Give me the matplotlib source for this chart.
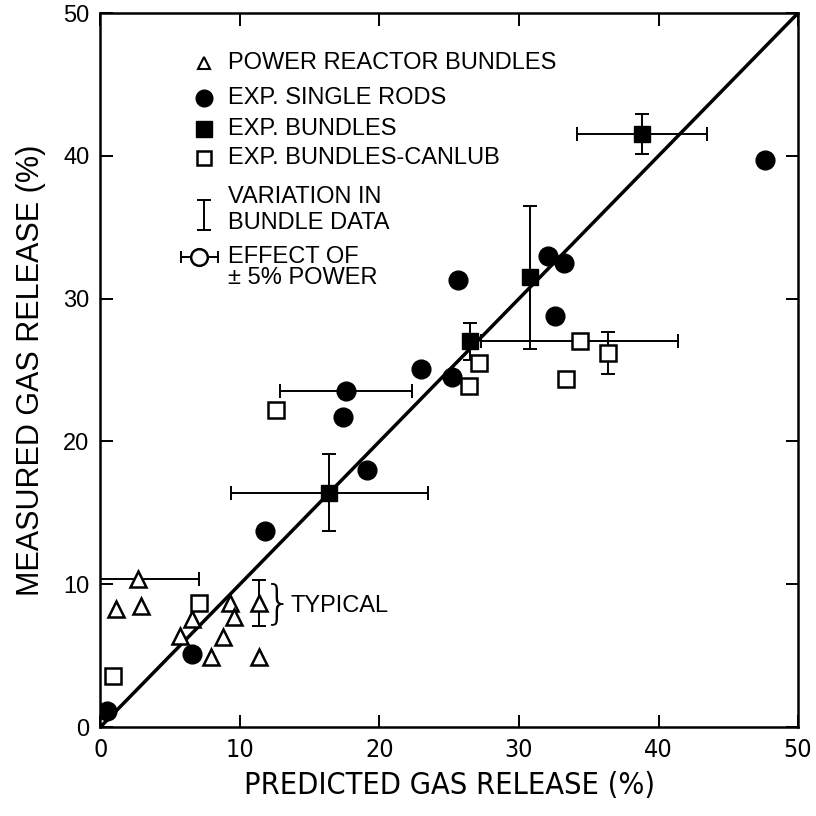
import numpy as np
import matplotlib
matplotlib.use("Agg")
import matplotlib.pyplot as plt

# power reactor bundles (open triangles)
reactor_x = [2.7, 1.1, 2.9, 6.6, 5.7, 9.3, 9.6, 8.8, 7.9, 11.4, 11.4]
reactor_y = [10.4, 8.3, 8.5, 7.6, 6.4, 8.7, 7.7, 6.3, 4.9, 4.9, 8.7]
reactor_xerr = [4.4, 0, 0, 0, 0, 0, 0, 0, 0, 0, 0]
reactor_yerr = [0, 0, 0, 0, 0, 0, 0, 0, 0, 0, 1.6]

# experimental single rods (filled circles)
rods_x = [0.5, 6.6, 11.8, 19.1, 17.4, 17.6, 23.0, 25.2, 25.6, 32.1, 33.2, 32.6, 47.6]
rods_y = [1.1, 5.1, 13.7, 18.0, 21.7, 23.5, 25.1, 24.5, 31.3, 33.0, 32.5, 28.8, 39.7]
rods_xerr = [0, 0, 0, 0, 0, 4.75, 0, 0, 0, 0, 0, 0, 0]

# experimental bundles (filled squares)
bund_x = [16.4, 26.5, 30.8, 38.8]
bund_y = [16.4, 27.0, 31.5, 41.5]
bund_xerr = [7.05, 0, 0, 4.65]
bund_yerr = [2.7, 1.3, 5.0, 1.4]

# experimental bundles - CANLUB (open squares)
canlub_x = [0.9, 7.1, 12.6, 27.1, 26.4, 34.35, 36.4, 33.4]
canlub_y = [3.6, 8.7, 22.2, 25.5, 23.9, 27.0, 26.2, 24.4]
canlub_xerr = [0, 0, 0, 0, 0, 7.05, 0, 0]
canlub_yerr = [0, 0, 0, 0, 0, 0, 1.5, 0]

plt.rcParams['font.family'] = ['Liberation Sans', 'DejaVu Sans']

fig = plt.figure(figsize=(8.16, 8.16), dpi=100)
ax = fig.add_axes([0.123, 0.109, 0.855, 0.875])

ebkw = dict(fmt='none', ecolor='black', elinewidth=1.4, capsize=5, capthick=1.4, zorder=2)


def draw_err(xs, ys, xerr=None, yerr=None):
    xs = np.array(xs)
    ys = np.array(ys)
    if xerr is not None:
        e = np.array(xerr)
        m = e > 0
        if m.any():
            ax.errorbar(xs[m], ys[m], xerr=e[m], **ebkw)
    if yerr is not None:
        e = np.array(yerr)
        m = e > 0
        if m.any():
            ax.errorbar(xs[m], ys[m], yerr=e[m], **ebkw)


# one-to-one line
ax.plot([0, 50], [0, 50], color='black', lw=2.5, zorder=1)

draw_err(reactor_x, reactor_y, reactor_xerr, reactor_yerr)
draw_err(rods_x, rods_y, rods_xerr)
draw_err(bund_x, bund_y, bund_xerr, bund_yerr)
draw_err(canlub_x, canlub_y, canlub_xerr, canlub_yerr)

ax.plot(reactor_x, reactor_y, '^', ms=12, mfc='white', mec='black', mew=1.8, ls='none', zorder=4)
ax.plot(rods_x, rods_y, 'o', ms=13.5, mfc='black', mec='black', ls='none', zorder=4)
ax.plot(bund_x, bund_y, 's', ms=12, mfc='black', mec='black', ls='none', zorder=4)
ax.plot(canlub_x, canlub_y, 's', ms=11.5, mfc='white', mec='black', mew=1.8, ls='none', zorder=4)

# "typical" annotation
ax.text(12.7, 8.6, '}', fontsize=34, family=['DejaVu Sans'], fontweight='light',
        ha='center', va='center')
ax.text(13.6, 8.5, 'TYPICAL', fontsize=17, ha='left', va='center')

# hand-drawn legend
tr = ax.transAxes
mx, tx = 0.148, 0.183
ax.plot([mx], [0.930], '^', ms=9, mfc='white', mec='black', mew=1.5, transform=tr)
ax.plot([mx], [0.881], 'o', ms=12, mfc='black', mec='black', transform=tr)
ax.plot([mx], [0.838], 's', ms=11, mfc='black', mec='black', transform=tr)
ax.plot([mx], [0.797], 's', ms=10.5, mfc='white', mec='black', mew=1.8, transform=tr)
ax.plot([mx, mx], [0.696, 0.738], color='black', lw=1.4, transform=tr)
ax.plot([mx, mx], [0.696, 0.738], '_', ms=10, mew=1.4, color='black', transform=tr)
ax.plot([0.115, 0.169], [0.658, 0.658], color='black', lw=1.4, transform=tr)
ax.plot([0.115, 0.169], [0.658, 0.658], '|', ms=8, mew=1.4, color='black', transform=tr)
ax.plot([0.142], [0.658], 'o', ms=12, mfc='white', mec='black', mew=1.8, transform=tr)

legend_rows = [
    ('POWER REACTOR BUNDLES', 0.930),
    ('EXP. SINGLE RODS', 0.881),
    ('EXP. BUNDLES', 0.838),
    ('EXP. BUNDLES-CANLUB', 0.797),
    ('VARIATION IN', 0.742),
    ('BUNDLE DATA', 0.706),
    ('EFFECT OF', 0.658),
    ('\u00b1 5% POWER', 0.629),
]
for label, yy in legend_rows:
    ax.text(tx, yy, label, fontsize=17, ha='left', va='center', transform=tr)

ax.set_xlim(0, 50)
ax.set_ylim(0, 50)
ax.set_xticks([0, 10, 20, 30, 40, 50])
ax.set_yticks([0, 10, 20, 30, 40, 50])
ax.tick_params(direction='in', length=9, width=1.4, top=True, right=True, labelsize=17, pad=8)
for lab in ax.get_xticklabels():
    lab.set_family(['DejaVu Sans'])
    lab.set_fontstretch('condensed')
    lab.set_fontsize(18)
for s in ax.spines.values():
    s.set_linewidth(1.8)

ax.set_xlabel('PREDICTED GAS RELEASE (%)', fontsize=22, family=['DejaVu Sans'],
              fontstretch='condensed', labelpad=6)
ax.set_ylabel('MEASURED GAS RELEASE (%)', fontsize=22, labelpad=12)

fig.savefig('out.png', dpi=100)
